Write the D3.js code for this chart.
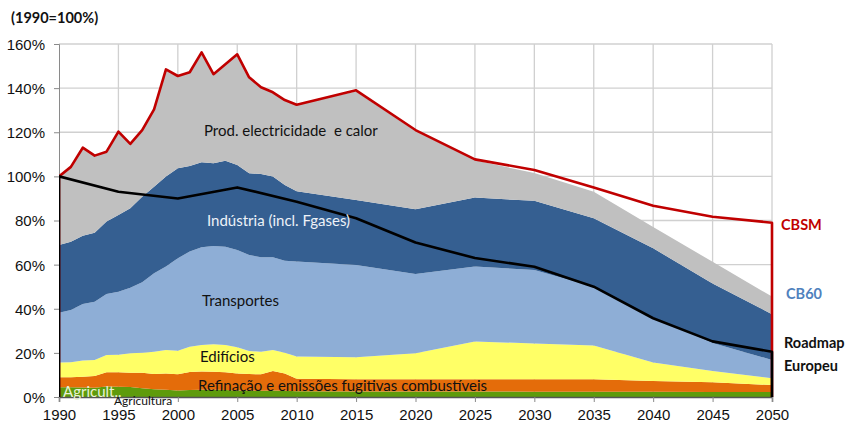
<!DOCTYPE html>
<html><head><meta charset="utf-8">
<script src="https://cdn.jsdelivr.net/npm/d3@7"></script>
<style>
body{margin:0;background:#fff;}
svg{display:block;font-family:Lato,"Open Sans",sans-serif;}
</style></head>
<body><svg id="c" width="852" height="425"></svg>
<script>
const years = [1990,1991,1992,1993,1994,1995,1996,1997,1998,1999,2000,2001,2002,2003,2004,2005,2006,2007,2008,2009,2010,2015,2020,2025,2030,2035,2040,2045,2050];
const agricultura = [4.4,4.4,4.3,4.2,4.8,4.7,4.5,4.0,3.5,3.3,2.9,3.2,3.3,3.3,3.2,3.0,2.9,2.8,2.9,2.8,2.6,2.5,2.5,2.5,2.4,2.4,2.4,2.3,2.3];
const refinacao = [4.5,4.5,4.9,5.3,6.4,6.5,6.5,7.0,6.9,7.4,7.4,8.1,8.3,8.1,8.0,7.7,7.5,7.5,8.9,7.9,5.7,5.5,5.5,5.5,5.6,5.6,4.9,4.4,3.1];
const edificios = [6.7,6.8,7.3,7.3,7.8,8.0,8.8,9.1,10.1,10.6,10.7,11.5,12.0,12.5,12.4,11.8,10.5,10.2,9.5,9.4,10.1,10.0,11.8,17.1,16.3,15.3,8.3,5.1,3.1];
const transportes = [22.6,23.7,25.7,26.4,27.7,28.5,29.7,31.9,35.6,37.8,41.9,43.1,44.3,44.5,44.5,44.1,43.5,42.8,42.0,41.7,43.0,41.8,36.0,34.0,33.3,26.7,20.4,12.7,8.3];
const industria = [30.7,31.0,30.9,31.3,32.8,34.8,36.0,38.8,39.2,40.8,40.8,38.8,38.5,37.5,39.0,38.6,37.0,37.8,36.6,34.3,31.9,29.5,29.3,31.3,31.3,31.0,31.4,27.0,20.7];
const electricidade = [31.1,33.9,39.9,34.9,31.7,37.8,29.2,30.2,35.1,48.6,41.8,42.5,49.8,40.4,43.7,50.1,43.5,39.3,38.2,38.5,39.2,49.2,35.4,16.9,12.6,12.0,9.6,9.8,8.0];
const cbsm = [100,104.3,113,109.4,111.2,120.3,114.7,121,130.4,148.5,145.5,147.2,156.2,146.3,150.8,155.3,144.9,140.4,138.1,134.6,132.5,139,121,107.7,102.9,95,86.7,81.7,79];
const roadmapYears = [1990,1995,2000,2005,2010,2015,2020,2025,2030,2035,2040,2045,2050];
const roadmap = [100,93,90,95,88.5,81,70,63,59,50,35.7,25.2,20.5];
const seriesNames = ["Agricultura","Refinação","Edifícios","Transportes","Indústria","Electricidade"];
const seriesValues = [agricultura,refinacao,edificios,transportes,industria,electricidade];
const seriesColors = ["#5e9b0c","#e46c0a","#ffff66","#8eaed6","#355f91","#c0c0c0"];
const yTicks = [0,20,40,60,80,100,120,140,160];
const xTicks = [1990,1995,2000,2005,2010,2015,2020,2025,2030,2035,2040,2045,2050];

const svg = d3.select("#c");
const x = d3.scaleLinear().domain([1990,2050]).range([59,772]);
const y = d3.scaleLinear().domain([0,160]).range([397,44]);

// gridlines
svg.append("g").selectAll("line.h").data(yTicks.filter(d=>d>0)).join("line")
  .attr("x1",59).attr("x2",772).attr("y1",d=>y(d)).attr("y2",d=>y(d))
  .attr("stroke","#d0d0d0").attr("stroke-width",1.3);
svg.append("g").selectAll("line.v").data(xTicks.filter(d=>d>1990)).join("line")
  .attr("x1",d=>x(d)).attr("x2",d=>x(d)).attr("y1",44).attr("y2",397)
  .attr("stroke","#d0d0d0").attr("stroke-width",1.3);

// stacked areas
const table = years.map((yr,i)=>{const o={year:yr}; seriesNames.forEach((n,k)=>o[n]=seriesValues[k][i]); return o;});
const stack = d3.stack().keys(seriesNames)(table);
const area = d3.area().x(d=>x(d.data.year)).y0(d=>y(d[0])).y1(d=>y(d[1]));
svg.append("g").selectAll("path").data(stack).join("path")
  .attr("d",area).attr("fill",(d,i)=>seriesColors[i]);

// axes
const yAxis = svg.append("g").attr("transform","translate(59,0)")
  .call(d3.axisLeft(y).tickValues(yTicks).tickSize(5).tickFormat(d=>d+"%"));
yAxis.select(".domain").attr("stroke","#8a8a8a");
yAxis.selectAll(".tick line").attr("stroke","#8a8a8a");
yAxis.selectAll("text").attr("font-size",15).attr("fill","#111").attr("x",-14).attr("dy","0.36em");

const xAxis = svg.append("g").attr("transform","translate(0,397)")
  .call(d3.axisBottom(x).tickValues(xTicks).tickSize(5).tickFormat(d3.format("d")));
xAxis.select(".domain").attr("stroke","#555").attr("stroke-width",1.5);
xAxis.selectAll(".tick line").attr("stroke","#8a8a8a");
xAxis.selectAll("text").attr("font-size",15).attr("fill","#111").attr("y",12);

// lines
svg.append("defs").append("clipPath").attr("id","clip").append("rect")
  .attr("x",59).attr("y",0).attr("width",790).attr("height",397);
const line = d3.line().x(d=>x(d[0])).y(d=>y(d[1]));
const redPts = [[1990,0]].concat(years.map((yr,i)=>[yr,cbsm[i]])).concat([[2050,0]]);
const blackPts = [[1990,0]].concat(roadmapYears.map((yr,i)=>[yr,roadmap[i]])).concat([[2050,0]]);
svg.append("path").attr("clip-path","url(#clip)").attr("d",line(redPts))
  .attr("fill","none").attr("stroke","#c00000").attr("stroke-width",2.6).attr("stroke-linejoin","round");
svg.append("path").attr("clip-path","url(#clip)").attr("d",line(blackPts))
  .attr("fill","none").attr("stroke","#000").attr("stroke-width",2.6).attr("stroke-linejoin","round");

// labels
svg.append("text").attr("x",11).attr("y",23).attr("font-size",14.5).attr("font-weight","bold").attr("fill","#111").text("(1990=100%)");
const lab = (t,xx,yy,opt={})=>svg.append("text").attr("x",xx).attr("y",yy)
  .attr("font-size",opt.size||15).attr("font-weight",opt.bold?"bold":"normal")
  .attr("fill",opt.fill||"#111").text(t);
lab("Prod. electricidade  e calor",204,136).attr("xml:space","preserve").style("white-space","pre");
lab("Indústria (incl. Fgases)",207,226,{fill:"#eef2f8"});
lab("Transportes",202,306);
lab("Edifícios",200,362);
lab("Refinação e emissões fugitivas combustíveis",198,391);
lab("Agricult..",63,397,{fill:"#e8f2d8"});
lab("Agricultura",114,405,{size:12});
lab("CBSM",781,230,{bold:true,fill:"#c00000",size:14.5});
lab("CB60",786,299,{bold:true,fill:"#4f81bd",size:14.5});
lab("Roadmap",784,348,{bold:true,size:14.5});
lab("Europeu",784,371,{bold:true,size:14.5});
</script></body></html>
